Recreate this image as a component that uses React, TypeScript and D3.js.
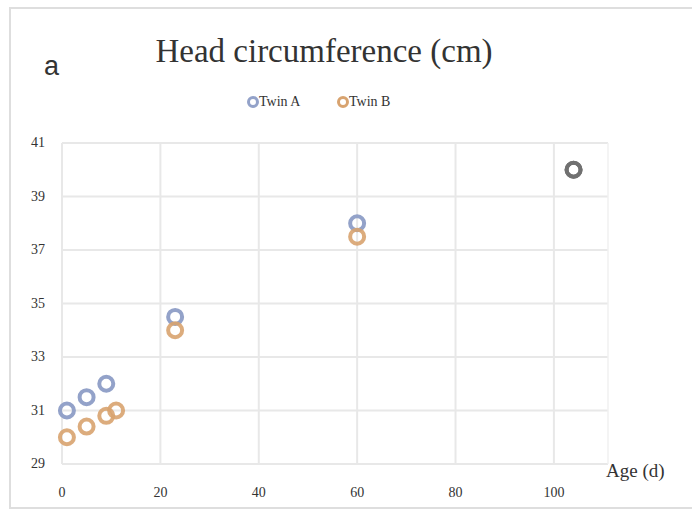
import React from "react";
import * as d3 from "d3";

const twinAAge = [1, 5, 9, 23, 60, 104];
const twinAHC = [31, 31.5, 32, 34.5, 38, 40];
const twinBAge = [1, 5, 9, 11, 23, 60, 104];
const twinBHC = [30, 30.4, 30.8, 31, 34, 37.5, 40];
const xTicks = [0, 20, 40, 60, 80, 100];
const yTicks = [29, 31, 33, 35, 37, 39, 41];

const W = 692;
const H = 518;
const serif = "'Liberation Serif', 'DejaVu Serif', serif";

export default function App() {
  const x = d3.scaleLinear().domain([0, 111]).range([62, 608]);
  const y = d3.scaleLinear().domain([29, 41]).range([464, 143]);
  const blue = "#93a2c9";
  const orange = "#d8a36f";
  const overlap = "#707070";
  const a = twinAAge.map((d, i) => ({ x: d, y: twinAHC[i] }));
  const b = twinBAge.map((d, i) => ({ x: d, y: twinBHC[i] }));
  const same = (p: { x: number; y: number }) =>
    a.some((q) => q.x === p.x && q.y === p.y) && b.some((q) => q.x === p.x && q.y === p.y);
  return (
    <svg width={W} height={H} style={{ position: "absolute", left: 0, top: 0 }}>
      <rect x={0} y={0} width={W} height={H} fill="#fff" />
      <rect x={10} y={8} width={W} height={500} fill="none" stroke="#dedede" strokeWidth={2} />
      {yTicks.map((t) => (
        <line key={"gy" + t} x1={x(0)} x2={x(111)} y1={y(t)} y2={y(t)} stroke="#e8e8e8" strokeWidth={2} />
      ))}
      {xTicks.map((t) => (
        <line key={"gx" + t} x1={x(t)} x2={x(t)} y1={y(41)} y2={y(29)} stroke="#e8e8e8" strokeWidth={2} />
      ))}
      <line x1={x(111)} x2={x(111)} y1={y(41)} y2={y(29)} stroke="#f0f0f0" strokeWidth={1.5} />
      {yTicks.map((t) => (
        <text key={"ty" + t} x={45} y={y(t) + 4} textAnchor="end" fontFamily={serif} fontSize={14} fill="#333">
          {t}
        </text>
      ))}
      {xTicks.map((t) => (
        <text key={"tx" + t} x={x(t)} y={497} textAnchor="middle" fontFamily={serif} fontSize={14} fill="#333">
          {t}
        </text>
      ))}
      <text x={606} y={477} fontFamily={serif} fontSize={19} fill="#333">Age (d)</text>
      <text x={324} y={62} textAnchor="middle" fontFamily={serif} fontSize={33} fill="#333">
        Head circumference  (cm)
      </text>
      <text x={44} y={75} fontFamily="'Liberation Sans', Arial, sans-serif" fontSize={27} fill="#333">a</text>
      <circle cx={253} cy={102} r={4.5} fill="none" stroke={blue} strokeWidth={3} />
      <text x={259} y={106} fontFamily={serif} fontSize={14} fill="#333">Twin A</text>
      <circle cx={343} cy={102} r={4.5} fill="none" stroke={orange} strokeWidth={3} />
      <text x={349} y={106} fontFamily={serif} fontSize={14} fill="#333">Twin B</text>
      {a.map((p, i) => (
        <circle key={"a" + i} cx={x(p.x)} cy={y(p.y)} r={7} fill="none" stroke={same(p) ? overlap : blue} strokeWidth={4} />
      ))}
      {b.map((p, i) => (
        <circle key={"b" + i} cx={x(p.x)} cy={y(p.y)} r={7} fill="none" stroke={same(p) ? overlap : orange} strokeWidth={4} opacity={same(p) ? 1 : 0.9} />
      ))}
    </svg>
  );
}
